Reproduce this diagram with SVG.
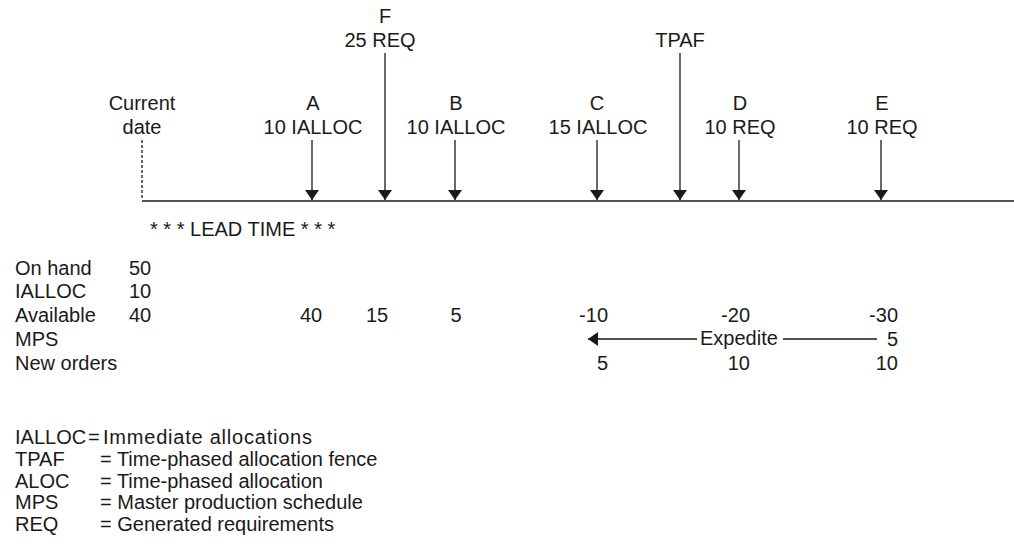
<svg xmlns="http://www.w3.org/2000/svg" width="1014" height="548" viewBox="0 0 1014 548">
<defs>
<style>
text{font-family:"Liberation Sans",Arial,sans-serif;font-size:20px;fill:#1a1a1a}
.c{text-anchor:middle}
.e{text-anchor:end}
.ln{stroke:#1a1a1a;stroke-width:1.3;fill:none}
</style>
<marker id="ah" viewBox="0 0 10 14" refX="10" refY="7" markerWidth="10" markerHeight="14" markerUnits="userSpaceOnUse" orient="auto">
<path d="M0,0 L10,7 L0,14 Z" fill="#1a1a1a"/>
</marker>
</defs>
<rect width="1014" height="548" fill="#fff"/>
<g id="connectors">
<line class="ln" x1="142" y1="201" x2="1014" y2="201"/>
<line class="ln" x1="142" y1="140" x2="142" y2="200" stroke-dasharray="3,2"/>
<path class="ln" d="M312,140 V200" marker-end="url(#ah)"/>
<path class="ln" d="M385,53 V200" marker-end="url(#ah)"/>
<path class="ln" d="M455,140 V200" marker-end="url(#ah)"/>
<path class="ln" d="M597,140 V200" marker-end="url(#ah)"/>
<path class="ln" d="M680,53 V200" marker-end="url(#ah)"/>
<path class="ln" d="M739,140 V200" marker-end="url(#ah)"/>
<path class="ln" d="M881,140 V200" marker-end="url(#ah)"/>
<path class="ln" d="M697,339 H588" marker-end="url(#ah)"/>
<line class="ln" x1="783" y1="339" x2="877" y2="339"/>
</g>
<g id="current-date"><text class="c" x="142" y="110">Current</text><text class="c" x="142" y="134">date</text></g>
<g id="node-A"><text class="c" x="313" y="110">A</text><text class="c" x="313" y="134">10 IALLOC</text></g>
<g id="node-F"><text class="c" x="385" y="23">F</text><text class="c" x="380" y="47">25 REQ</text></g>
<g id="node-B"><text class="c" x="456" y="110">B</text><text class="c" x="456" y="134">10 IALLOC</text></g>
<g id="node-C"><text class="c" x="597" y="110">C</text><text class="c" x="598" y="134">15 IALLOC</text></g>
<g id="node-TPAF"><text class="c" x="680" y="47">TPAF</text></g>
<g id="node-D"><text class="c" x="740" y="110">D</text><text class="c" x="740" y="134">10 REQ</text></g>
<g id="node-E"><text class="c" x="882" y="110">E</text><text class="c" x="882" y="134">10 REQ</text></g>
<g id="lead-time"><text x="150" y="236">* * * LEAD TIME * * *</text></g>
<g id="table">
<text x="15" y="275">On hand</text>
<text x="15" y="298">IALLOC</text>
<text x="15" y="322">Available</text>
<text x="15" y="346">MPS</text>
<text x="15" y="370">New orders</text>
<text x="129" y="275">50</text>
<text x="129" y="298">10</text>
<text x="129" y="322">40</text>
<text class="c" x="311" y="322">40</text>
<text class="c" x="377" y="322">15</text>
<text class="c" x="456" y="322">5</text>
<text class="e" x="608" y="322">-10</text>
<text class="e" x="750" y="322">-20</text>
<text class="e" x="898" y="322">-30</text>
<text x="700" y="345">Expedite</text>
<text class="e" x="898" y="346">5</text>
<text class="e" x="608" y="370">5</text>
<text class="e" x="750" y="370">10</text>
<text class="e" x="898" y="370">10</text>
</g>
<g id="legend">
<text x="15" y="444">IALLOC</text><text x="88" y="444">=</text><text x="103" y="444" textLength="209">Immediate allocations</text>
<text x="15" y="466">TPAF</text><text x="100" y="466">= Time-phased allocation fence</text>
<text x="15" y="488">ALOC</text><text x="100" y="488">= Time-phased allocation</text>
<text x="15" y="509">MPS</text><text x="100" y="509">= Master production schedule</text>
<text x="15" y="531">REQ</text><text x="100" y="531">= Generated requirements</text>
</g>
</svg>
